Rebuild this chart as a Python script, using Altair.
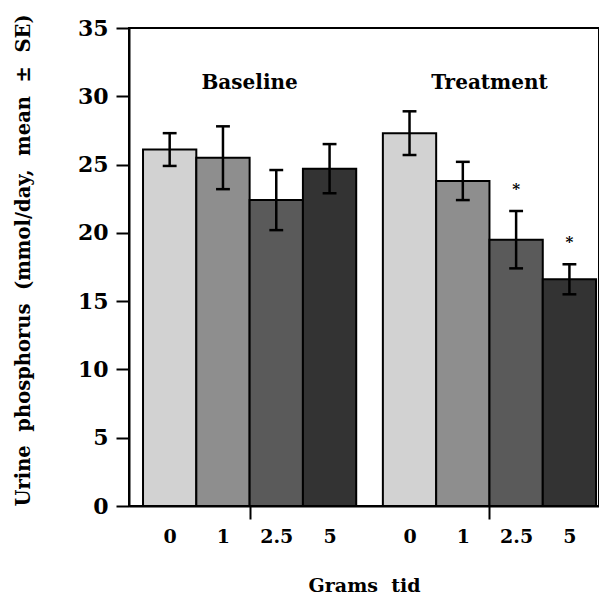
import altair as alt
import pandas as pd

# ---- data ----
doses = ["0", "1", "2.5", "5"]
groups = ["Baseline", "Treatment"]
baseline_mean = [26.1, 25.5, 22.4, 24.7]
baseline_se = [1.2, 2.3, 2.2, 1.8]
treatment_mean = [27.3, 23.8, 19.5, 16.6]
treatment_se = [1.6, 1.4, 2.1, 1.1]
treatment_signif = [False, False, True, True]

colors = ["#d2d2d2", "#8e8e8e", "#5a5a5a", "#333333"]
FONT = "DejaVu Serif"

rows = []
for g, (means, ses) in enumerate([(baseline_mean, baseline_se), (treatment_mean, treatment_se)]):
    for i, d in enumerate(doses):
        pos = g * 4.5 + i
        m, s = means[i], ses[i]
        sig = treatment_signif[i] if g == 1 else False
        rows.append(dict(group=groups[g], dose=d, pos=pos, x0=pos - 0.5, x1=pos + 0.5,
                         mean=m, lo=m - s, hi=m + s, cl=pos - 0.13, cr=pos + 0.13,
                         star=("*" if sig else ""), star_y=m + s + 1.6))
df = pd.DataFrame(rows)

group_df = pd.DataFrame({"group": groups, "pos": [1.5, 6.0], "ly": [31.0, 31.0]})

tick_pos = list(df["pos"]) + [1.5, 6.0]
expr = "''"
for p, lab in zip(df["pos"], df["dose"]):
    expr = f"datum.value == {p} ? '{lab}' : " + expr

xscale = alt.Scale(domain=[-0.763, 8.055], nice=False, zero=False, padding=0)
yscale = alt.Scale(domain=[0, 35], nice=False, padding=0)

xaxis = alt.Axis(values=tick_pos, labelExpr=expr, title="Grams\u00a0\u00a0tid", grid=False,
                 tickOpacity={"condition": {"test": "datum.value == 1.5 || datum.value == 6", "value": 1}, "value": 0},
                 tickSize=13, tickWidth=2, tickColor="black", domainWidth=2, domainColor="black",
                 labelFont=FONT, labelFontSize=19, labelFontWeight="bold", labelColor="black",
                 labelPadding=8, labelOverlap=False, labelFlush=False,
                 titleFont=FONT, titleFontSize=19, titleFontWeight="bold", titleColor="black",
                 titlePadding=30)
yaxis = alt.Axis(values=[0, 5, 10, 15, 20, 25, 30, 35], grid=False,
                 title="Urine\u00a0\u00a0phosphorus\u00a0\u00a0(mmol/day,\u00a0\u00a0mean\u00a0\u00a0±\u00a0\u00a0SE)",
                 tickSize=13, tickWidth=2, tickColor="black", domainWidth=2, domainColor="black",
                 labelFont=FONT, labelFontSize=22, labelFontWeight="bold", labelColor="black",
                 labelPadding=8, labelFlush=False,
                 titleFont=FONT, titleFontSize=19.5, titleFontWeight="bold", titleColor="black",
                 titleAnchor="start", titlePadding=44)

base = alt.Chart(df)

bars = base.mark_bar(stroke="black", strokeWidth=2).encode(
    x=alt.X("x0:Q", scale=xscale, axis=xaxis),
    x2="x1:Q",
    y=alt.Y("mean:Q", scale=yscale, axis=yaxis),
    y2=alt.datum(0),
    fill=alt.Fill("dose:N", scale=alt.Scale(domain=doses, range=colors), legend=None),
)
err = base.mark_rule(color="black", strokeWidth=2.5).encode(x="pos:Q", y="lo:Q", y2="hi:Q")
cap_hi = base.mark_rule(color="black", strokeWidth=2.5).encode(x="cl:Q", x2="cr:Q", y="hi:Q")
cap_lo = base.mark_rule(color="black", strokeWidth=2.5).encode(x="cl:Q", x2="cr:Q", y="lo:Q")
stars = base.mark_text(font=FONT, fontSize=15, fontWeight="bold", color="black", baseline="middle").encode(
    x="pos:Q", y="star_y:Q", text="star:N")
glabels = alt.Chart(group_df).mark_text(font=FONT, fontSize=20, fontWeight="bold", color="black",
                                        baseline="middle").encode(
    x="pos:Q", y="ly:Q", text="group:N")

chart = alt.layer(bars, err, cap_hi, cap_lo, stars, glabels).properties(
    width=470, height=478, background="white",
    padding={"left": 5, "top": 5, "right": 0, "bottom": 0},
).configure_view(stroke="black", strokeWidth=2)

chart.save("out.html", embed_options={"renderer": "svg", "actions": False})
